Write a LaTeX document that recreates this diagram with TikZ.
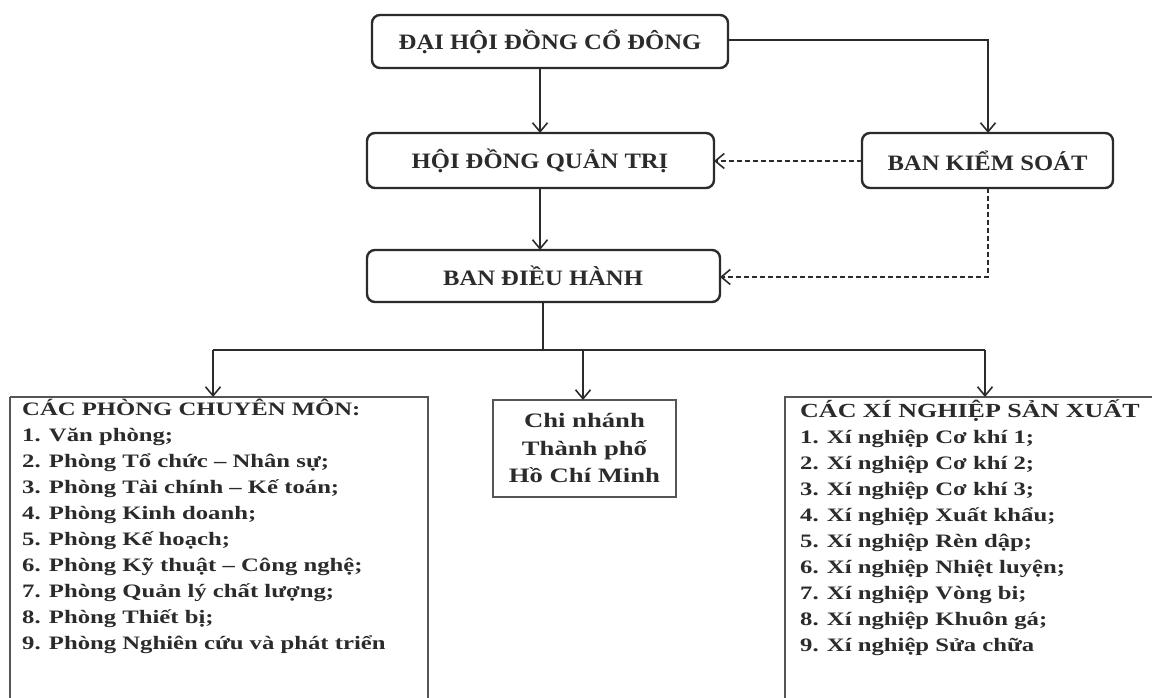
\documentclass[tikz,border=0pt]{standalone}
\usepackage{fontspec}
\setmainfont{Liberation Serif}
\newfontfamily\hdfont[FakeStretch=1.12]{Liberation Serif}
\newfontfamily\lstfont[FakeStretch=1.3]{Liberation Serif}
\usetikzlibrary{arrows.meta}
\definecolor{ink}{HTML}{2B2B2B}
\tikzset{
  rbox/.style={draw=ink, line width=2.4pt, rounded corners=8pt, text=ink},
  sbox/.style={draw=ink!80, line width=1.6pt, text=ink},
  conn/.style={draw=ink, line width=1.5pt, -{Straight Barb[length=9pt,width=15pt,line width=1.6pt]}},
  dconn/.style={conn, dashed, dash pattern=on 5pt off 3pt},
  hd/.style={font=\hdfont\bfseries\fontsize{22}{24}\selectfont},
  lst/.style={font=\lstfont\bfseries\fontsize{19}{26}\selectfont, text=ink, align=left, anchor=north west, inner sep=0pt}
}
\begin{document}
\begin{tikzpicture}[x=1pt,y=-1pt]
\useasboundingbox (0,0) rectangle (1152,698);
% rounded boxes
\draw[rbox] (372,15) rectangle (728,68);
\node[hd, text=ink] (dh) at (550,41.5) {ĐẠI HỘI ĐỒNG CỔ ĐÔNG};
\draw[rbox] (367,133) rectangle (714,188);
\node[hd, text=ink] (hd) at (540,160.5) {HỘI ĐỒNG QUẢN TRỊ};
\draw[rbox] (862,133) rectangle (1113,188);
\node[hd, text=ink] (bks) at (987.5,160.5) {BAN KIỂM SOÁT};
\draw[rbox] (367,250) rectangle (720,302);
\node[hd, text=ink] (bdh) at (543,276) {BAN ĐIỀU HÀNH};
\coordinate (dhB) at (540,68);
\coordinate (dhR) at (728,40);
\coordinate (hdT) at (540,133);
\coordinate (hdR) at (714,161);
\coordinate (hdB) at (540,188);
\coordinate (bksT) at (988,133);
\coordinate (bksL) at (862,161);
\coordinate (bksB) at (988,188);
\coordinate (bdhT) at (540,250);
\coordinate (bdhR) at (720,277);
\coordinate (bdhB) at (543,302);
\coordinate (split) at (543,350);
% lower boxes
\draw[sbox] (10,397) -- (428,397) -- (428,705) (10,397) -- (10,705);
\draw[sbox] (493,400) rectangle (676,497);
\draw[sbox] (785,705) -- (785,397) -- (1160,397);
\coordinate (ltT) at (213,397);
\coordinate (mdT) at (583,400);
\coordinate (rtT) at (985,397);
\node[lst] (lt) at (22,399) {CÁC PHÒNG CHUYÊN MÔN:\\
1. Văn phòng;\\
2. Phòng Tổ chức – Nhân sự;\\
3. Phòng Tài chính – Kế toán;\\
4. Phòng Kinh doanh;\\
5. Phòng Kế hoạch;\\
6. Phòng Kỹ thuật – Công nghệ;\\
7. Phòng Quản lý chất lượng;\\
8. Phòng Thiết bị;\\
9. Phòng Nghiên cứu và phát triển};
\node[lst, align=center, anchor=center, font=\lstfont\bfseries\fontsize{20.5}{27.5}\selectfont] (md) at (584.5,448) {Chi nhánh\\Thành phố\\Hồ Chí Minh};
\node[lst] (rt) at (800,399) {{\fontsize{20}{26}\selectfont CÁC XÍ NGHIỆP SẢN XUẤT}\\
1. Xí nghiệp Cơ khí 1;\\
2. Xí nghiệp Cơ khí 2;\\
3. Xí nghiệp Cơ khí 3;\\
4. Xí nghiệp Xuất khẩu;\\
5. Xí nghiệp Rèn dập;\\
6. Xí nghiệp Nhiệt luyện;\\
7. Xí nghiệp Vòng bi;\\
8. Xí nghiệp Khuôn gá;\\
9. Xí nghiệp Sửa chữa};
% connectors
\draw[conn] (dhB) -- (hdT);
\draw[conn] (dhR) -| (bksT);
\draw[conn] (hdB) -- (bdhT);
\draw[dconn] (bksL) -- (hdR);
\draw[dconn] (bksB) |- (bdhR);
\draw[ink, line width=1.5pt] (bdhB) -- (split);
\draw[ink, line width=1.5pt] (ltT |- split) -- (rtT |- split);
\draw[conn] (ltT |- split) -- (ltT);
\draw[conn] (mdT |- split) -- (mdT);
\draw[conn] (rtT |- split) -- (rtT);
\end{tikzpicture}
\end{document}
